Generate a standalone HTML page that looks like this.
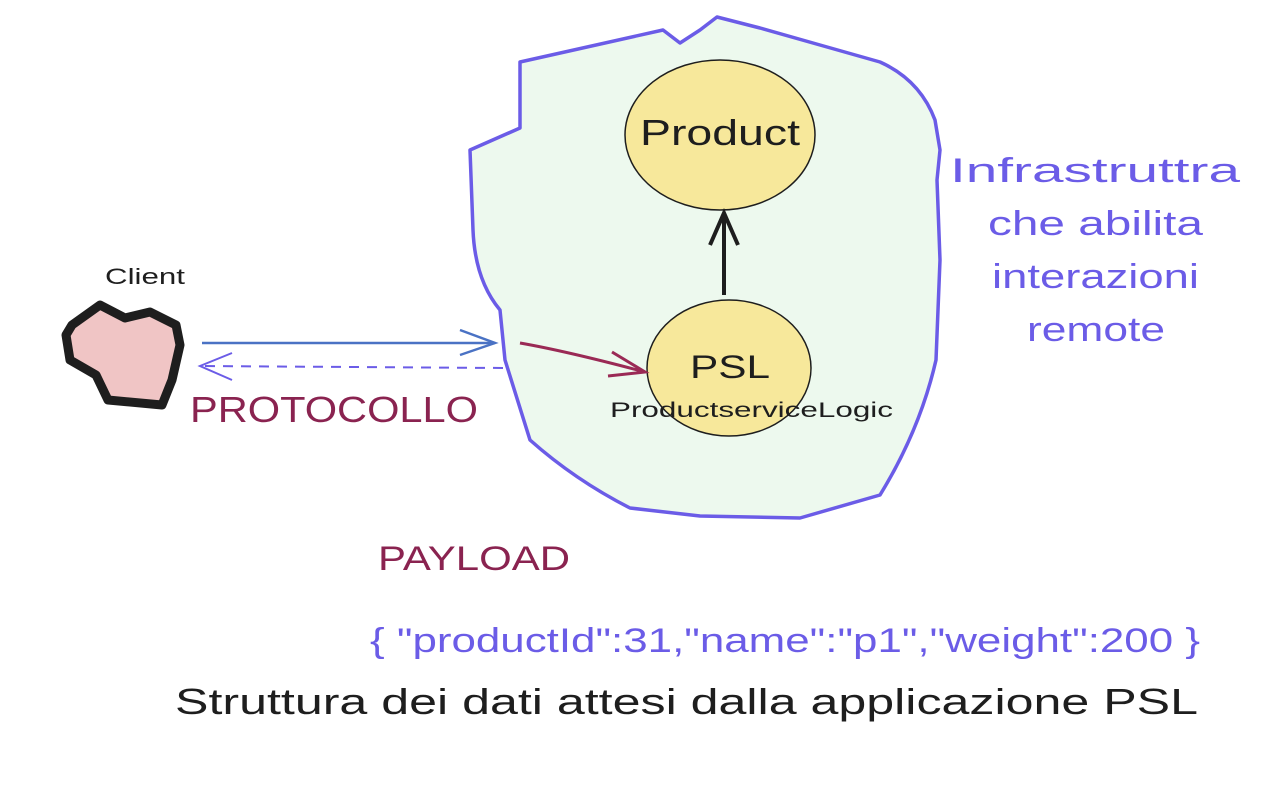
<!DOCTYPE html>
<html><head><style>
body{margin:0;background:#fff;}
svg{display:block}
text{font-family:"Liberation Sans",sans-serif;}
</style></head><body>
<svg width="1277" height="810" viewBox="0 0 1277 810">
<path d="M 520 62 L 663 30 L 680 43 L 700 30 L 717 17 L 760 28 L 820 45 L 880 62 Q 920 80 935 120 L 940 150 L 937 180 L 940 260 L 936 360 Q 920 430 880 495 L 800 518 L 700 516 L 630 508 Q 575 480 530 440 L 505 360 L 500 310 Q 475 280 473 230 L 470 150 L 520 128 Z" fill="#edf9ee" stroke="#6b5ce7" stroke-width="3.5" stroke-linejoin="round"/>
<ellipse cx="720" cy="135" rx="95" ry="75" fill="#f7e89b" stroke="#1e1e1e" stroke-width="1.5"/>
<ellipse cx="729" cy="368" rx="82" ry="68" fill="#f7e89b" stroke="#1e1e1e" stroke-width="1.5"/>
<line x1="724" y1="295" x2="724" y2="213" stroke="#1e1e1e" stroke-width="4"/>
<polyline points="710,245 724,213 738,245" fill="none" stroke="#1e1e1e" stroke-width="4"/>
<text x="640" y="145" font-size="36" textLength="160" lengthAdjust="spacingAndGlyphs" fill="#1e1e1e">Product</text>
<text x="690" y="378" font-size="32" textLength="80" lengthAdjust="spacingAndGlyphs" fill="#1e1e1e">PSL</text>
<text x="610" y="417" font-size="21" textLength="283" lengthAdjust="spacingAndGlyphs" fill="#1e1e1e">ProductserviceLogic</text>
<path d="M 72 325 L 100 305 L 125 318 L 150 312 L 176 325 L 180 345 L 172 380 L 162 405 L 108 400 L 96 375 L 70 360 L 66 335 Z" fill="#f0c5c5" stroke="#1e1e1e" stroke-width="9" stroke-linejoin="round"/>
<text x="105" y="284" font-size="22" textLength="80" lengthAdjust="spacingAndGlyphs" fill="#1e1e1e">Client</text>
<line x1="202" y1="343" x2="495" y2="343" stroke="#4a72c4" stroke-width="2.5"/>
<polyline points="460,330 495,343 460,355" fill="none" stroke="#4a72c4" stroke-width="2.5"/>
<line x1="503" y1="368" x2="200" y2="366" stroke="#6b5ce7" stroke-width="2" stroke-dasharray="10,8"/>
<path d="M 232 353 L 200 366 L 232 380" fill="none" stroke="#6b5ce7" stroke-width="2"/>
<path d="M 520 343 C 560 350 600 360 645 372" fill="none" stroke="#9a2a55" stroke-width="3"/>
<polyline points="612,352 645,372 608,376" fill="none" stroke="#9a2a55" stroke-width="3"/>
<text x="190" y="422" font-size="36" textLength="288" lengthAdjust="spacingAndGlyphs" fill="#8a2350">PROTOCOLLO</text>
<text x="378" y="570" font-size="34" textLength="192" lengthAdjust="spacingAndGlyphs" fill="#8a2350">PAYLOAD</text>
<g font-size="34" fill="#6b5ce7">
<text x="950" y="182" textLength="290" lengthAdjust="spacingAndGlyphs">Infrastruttra</text>
<text x="988" y="235" textLength="215" lengthAdjust="spacingAndGlyphs">che abilita</text>
<text x="992" y="288" textLength="207" lengthAdjust="spacingAndGlyphs">interazioni</text>
<text x="1027" y="341" textLength="138" lengthAdjust="spacingAndGlyphs">remote</text>
</g>
<text x="370" y="652" font-size="34" textLength="830" lengthAdjust="spacingAndGlyphs" fill="#6b5ce7">{ "productId":31,"name":"p1","weight":200 }</text>
<text x="175" y="714" font-size="36" textLength="1023" lengthAdjust="spacingAndGlyphs" fill="#1e1e1e">Struttura dei dati attesi dalla applicazione PSL</text>
</svg>
</body></html>
